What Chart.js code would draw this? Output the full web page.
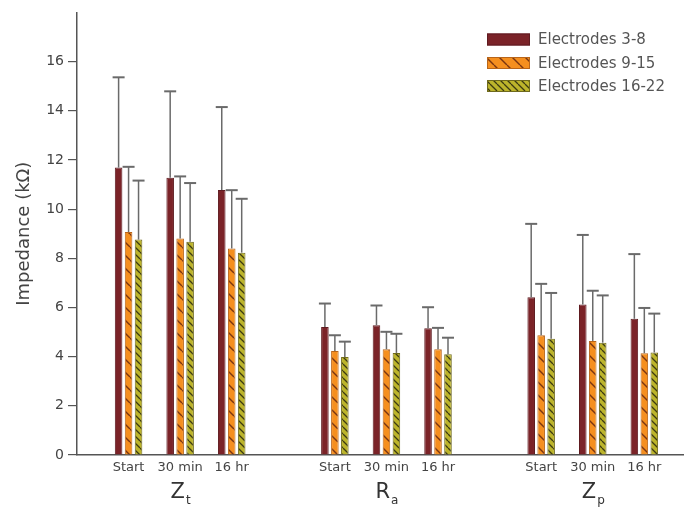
<!DOCTYPE html>
<html>
<head>
<meta charset="utf-8">
<script src="https://cdn.jsdelivr.net/npm/chart.js@4.4.0/dist/chart.umd.min.js"></script>
<style>
  html, body { margin: 0; padding: 0; background: #ffffff; }
  #wrap { width: 686px; height: 509px; }
</style>
</head>
<body>
<div id="wrap"><canvas id="c" width="686" height="509"></canvas></div>
<script>
// ---- data ----
const timepoints = ['Start', '30 min', '16 hr'];
const groupMain = ['Z', 'R', 'Z'];
const groupSub = ['t', 'a', 'p'];
const seriesNames = ['Electrodes 3-8', 'Electrodes 9-15', 'Electrodes 16-22'];

// means (kΩ), order: Zt(Start,30min,16hr), Ra(...), Zp(...)
const e3to8   = [11.69, 11.28, 10.78, 5.21, 5.28, 5.15, 6.42, 6.12, 5.54];
const e9to15  = [9.07, 8.80, 8.40, 4.23, 4.30, 4.30, 4.87, 4.64, 4.14];
const e16to22 = [8.76, 8.67, 8.23, 3.99, 4.15, 4.10, 4.73, 4.57, 4.17];
// upper error (kΩ)
const err3to8   = [3.67, 3.51, 3.37, 0.95, 0.80, 0.86, 2.98, 2.83, 2.63];
const err9to15  = [2.65, 2.53, 2.37, 0.64, 0.71, 0.87, 2.09, 2.04, 1.84];
const err16to22 = [2.40, 2.39, 2.19, 0.62, 0.78, 0.67, 1.86, 1.92, 1.58];

const yTicks = [0, 2, 4, 6, 8, 10, 12, 14, 16];

// ---- build structure ----
// slot position of each (group, timepoint): one empty slot between groups
const slots = [];
const slotLabels = {};
groupMain.forEach((g, gi) => {
  timepoints.forEach((t, ti) => {
    const s = gi * (timepoints.length + 1) + ti + 1;
    slots.push(s);
    slotLabels[s] = t;
  });
});
const groupCenters = groupMain.map((g, gi) => gi * (timepoints.length + 1) + 2);

function hatch(bg, line, size, lw) {
  const c = document.createElement('canvas');
  c.width = size; c.height = size;
  const x = c.getContext('2d');
  x.fillStyle = bg; x.fillRect(0, 0, size, size);
  x.strokeStyle = line; x.lineWidth = lw;
  x.beginPath();
  for (let k = -1; k <= 1; k++) {
    x.moveTo(k * size, 0); x.lineTo(k * size + size, size);
  }
  x.stroke();
  return x.createPattern(c, 'repeat');
}

const ctx = document.getElementById('c').getContext('2d');
const fills = [
  '#7b2328',
  hatch('#f58f1f', '#7a3512', 13, 1.4),
  hatch('#bcb42b', '#3c3a12', 7, 1.3)
];
const borders = ['#5e1b20', '#b8651a', '#6f6a1c'];
const means = [e3to8, e9to15, e16to22];
const errs = [err3to8, err9to15, err16to22];

const datasets = seriesNames.map((name, i) => ({
  label: name,
  data: means[i].map((v, k) => ({ x: slots[k], y: v })),
  backgroundColor: fills[i],
  borderColor: borders[i],
  borderWidth: 1,
  errors: errs[i],
  categoryPercentage: 0.58,
  barPercentage: 0.76
}));

const errorBarPlugin = {
  id: 'errorBars',
  afterDatasetsDraw(chart) {
    const c = chart.ctx;
    const ys = chart.scales.y;
    c.save();
    chart.data.datasets.forEach((ds, di) => {
      const meta = chart.getDatasetMeta(di);
      meta.data.forEach((bar, k) => {
        const top = ys.getPixelForValue(ds.data[k].y + ds.errors[k]);
        const base = ys.getPixelForValue(ds.data[k].y);
        c.strokeStyle = '#6a6a6a';
        c.lineWidth = 1.5;
        c.beginPath();
        c.moveTo(bar.x, base); c.lineTo(bar.x, top);
        c.stroke();
        c.lineWidth = 2;
        c.beginPath();
        c.moveTo(bar.x - 6, top); c.lineTo(bar.x + 6, top);
        c.stroke();
      });
    });
    c.restore();
  }
};

const groupLabelPlugin = {
  id: 'groupLabels',
  afterDraw(chart) {
    const c = chart.ctx;
    const xs = chart.scales.x;
    c.save();
    c.fillStyle = '#333333';
    c.textBaseline = 'alphabetic';
    groupMain.forEach((g, gi) => {
      const cx = xs.getPixelForValue(groupCenters[gi]);
      c.font = '21px "DejaVu Sans"';
      const w1 = c.measureText(g).width;
      c.font = '12px "DejaVu Sans"';
      const w2 = c.measureText(groupSub[gi]).width;
      const x0 = cx - (w1 + w2) / 2;
      c.font = '21px "DejaVu Sans"';
      c.textAlign = 'left';
      c.fillText(g, x0, 498);
      c.font = '12px "DejaVu Sans"';
      c.fillText(groupSub[gi], x0 + w1 + 1, 504);
    });
    c.restore();
  }
};

const legendPlugin = {
  id: 'boxLegend',
  afterDraw(chart) {
    const c = chart.ctx;
    c.save();
    const bx = 487, bw = 43, bh = 12;
    const rowY = [39.5, 63, 86];
    chart.data.datasets.forEach((ds, i) => {
      const cy = rowY[i];
      c.fillStyle = ds.backgroundColor;
      c.fillRect(bx, cy - bh / 2, bw, bh);
      c.strokeStyle = ds.borderColor;
      c.lineWidth = 1;
      c.strokeRect(bx + 0.5, cy - bh / 2 + 0.5, bw - 1, bh - 1);
      c.fillStyle = '#555555';
      c.font = '15px "DejaVu Sans"';
      c.textBaseline = 'middle';
      c.textAlign = 'left';
      c.fillText(ds.label, 538, cy + 1);
    });
    c.restore();
  }
};

new Chart(ctx, {
  type: 'bar',
  data: { datasets },
  options: {
    responsive: false,
    animation: false,
    layout: { padding: { top: 8, right: 3, left: 0, bottom: 0 } },
    plugins: { legend: { display: false }, tooltip: { enabled: false } },
    scales: {
      x: {
        type: 'linear',
        min: 0,
        max: 11.75,
        offset: false,
        grid: { display: false, drawTicks: false },
        border: { display: true, color: '#555555', width: 1.5 },
        afterBuildTicks(scale) { scale.ticks = slots.map(v => ({ value: v })); },
        afterFit(scale) { scale.height = 54; },
        ticks: {
          autoSkip: false,
          maxRotation: 0,
          padding: 5,
          color: '#444444',
          font: { family: 'DejaVu Sans', size: 13 },
          callback: (v) => slotLabels[v] || ''
        }
      },
      y: {
        min: 0,
        max: 18,
        afterBuildTicks(scale) { scale.ticks = yTicks.map(v => ({ value: v })); },
        afterFit(scale) { scale.width = 77; },
        grid: { drawOnChartArea: false, drawTicks: true, tickLength: 9, color: '#555555', lineWidth: 1.2 },
        border: { display: true, color: '#555555', width: 1.5 },
        ticks: {
          padding: 4,
          color: '#444444',
          font: { family: 'DejaVu Sans', size: 14 }
        },
        title: {
          display: true,
          text: 'Impedance (kΩ)',
          color: '#444444',
          font: { family: 'DejaVu Sans', size: 18, weight: 'normal' },
          padding: { top: 14, bottom: 0 }
        }
      }
    }
  },
  plugins: [errorBarPlugin, groupLabelPlugin, legendPlugin]
});
</script>
</body>
</html>
